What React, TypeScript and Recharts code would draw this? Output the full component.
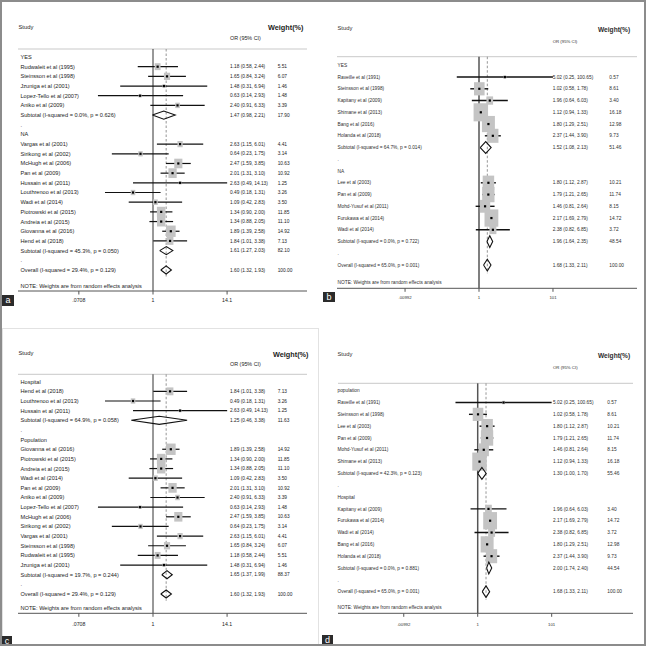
import React from "react";
import { ScatterChart, Scatter, XAxis, YAxis, ErrorBar, ReferenceLine } from "recharts";

type Row = { label: string; or?: number; lo?: number; hi?: number; w?: number; kind?: "group" | "gap" | "pool" };

const FONT = "'Liberation Sans', Arial, Helvetica, sans-serif";

const studyHead = "Study";
const effectHead = "OR (95% CI)";
const weightHead = "Weight(%)";
const noteText = "NOTE: Weights are from random effects analysis";

const ticksAC = [0.0708, 1, 14.1];
const tickLabelsAC = [".0708", "1", "14.1"];
const ticksBD = [0.00992, 1, 101];
const tickLabelsBD = [".00992", "1", "101"];

// a: by HLA-B27 (YES / NA)
const rowsA: Row[] = [
  { label: "YES", kind: "group" },
  { label: "Rudwaleit et al (1995)", or: 1.18, lo: 0.58, hi: 2.44, w: 5.51 },
  { label: "Steinsson et al (1998)", or: 1.65, lo: 0.84, hi: 3.24, w: 6.07 },
  { label: "Jzuniga et al (2001)", or: 1.48, lo: 0.31, hi: 6.94, w: 1.46 },
  { label: "Lopez-Tello et al (2007)", or: 0.63, lo: 0.14, hi: 2.93, w: 1.48 },
  { label: "Aniko et al (2009)", or: 2.4, lo: 0.91, hi: 6.33, w: 3.39 },
  { label: "Subtotal  (I-squared = 0.0%, p = 0.626)", or: 1.47, lo: 0.98, hi: 2.21, w: 17.9, kind: "pool" },
  { label: ".", kind: "gap" },
  { label: "NA", kind: "group" },
  { label: "Vargas et al (2001)", or: 2.63, lo: 1.15, hi: 6.01, w: 4.41 },
  { label: "Sirikong et al (2002)", or: 0.64, lo: 0.23, hi: 1.75, w: 3.14 },
  { label: "McHugh et al (2006)", or: 2.47, lo: 1.59, hi: 3.85, w: 10.63 },
  { label: "Pan et al (2009)", or: 2.01, lo: 1.31, hi: 3.1, w: 10.92 },
  { label: "Hussain et al (2011)", or: 2.63, lo: 0.49, hi: 14.13, w: 1.25 },
  { label: "Louthrenoo et al (2013)", or: 0.49, lo: 0.18, hi: 1.31, w: 3.26 },
  { label: "Wadi et al (2014)", or: 1.09, lo: 0.42, hi: 2.83, w: 3.5 },
  { label: "Piotrowski et al (2015)", or: 1.34, lo: 0.9, hi: 2.0, w: 11.85 },
  { label: "Andreia et al (2015)", or: 1.34, lo: 0.88, hi: 2.05, w: 11.1 },
  { label: "Giovanna et al (2016)", or: 1.89, lo: 1.39, hi: 2.58, w: 14.92 },
  { label: "Hend et al (2018)", or: 1.84, lo: 1.01, hi: 3.38, w: 7.13 },
  { label: "Subtotal  (I-squared = 45.3%, p = 0.050)", or: 1.61, lo: 1.27, hi: 2.03, w: 82.1, kind: "pool" },
  { label: ".", kind: "gap" },
  { label: "Overall  (I-squared = 29.4%, p = 0.129)", or: 1.6, lo: 1.32, hi: 1.93, w: 100, kind: "pool" },
];

const rowsB: Row[] = [
  { label: "YES", kind: "group" },
  { label: "Raveille et al (1991)", or: 5.02, lo: 0.25, hi: 100.65, w: 0.57 },
  { label: "Steinsson et al (1998)", or: 1.02, lo: 0.58, hi: 1.78, w: 8.61 },
  { label: "Kapitany et al (2009)", or: 1.96, lo: 0.64, hi: 6.03, w: 3.4 },
  { label: "Shimane et al (2013)", or: 1.12, lo: 0.94, hi: 1.33, w: 16.18 },
  { label: "Bang et al (2016)", or: 1.8, lo: 1.29, hi: 2.51, w: 12.98 },
  { label: "Holanda et al (2018)", or: 2.37, lo: 1.44, hi: 3.9, w: 9.73 },
  { label: "Subtotal  (I-squared = 64.7%, p = 0.014)", or: 1.52, lo: 1.08, hi: 2.13, w: 51.46, kind: "pool" },
  { label: ".", kind: "gap" },
  { label: "NA", kind: "group" },
  { label: "Lee et al (2003)", or: 1.8, lo: 1.12, hi: 2.87, w: 10.21 },
  { label: "Pan et al (2009)", or: 1.79, lo: 1.21, hi: 2.65, w: 11.74 },
  { label: "Mohd-Yusuf et al (2011)", or: 1.46, lo: 0.81, hi: 2.64, w: 8.15 },
  { label: "Furukawa et al (2014)", or: 2.17, lo: 1.69, hi: 2.79, w: 14.72 },
  { label: "Wadi et al (2014)", or: 2.38, lo: 0.82, hi: 6.85, w: 3.72 },
  { label: "Subtotal  (I-squared = 0.0%, p = 0.722)", or: 1.96, lo: 1.64, hi: 2.35, w: 48.54, kind: "pool" },
  { label: ".", kind: "gap" },
  { label: "Overall  (I-squared = 65.0%, p = 0.001)", or: 1.68, lo: 1.33, hi: 2.11, w: 100, kind: "pool" },
];

const rowsC: Row[] = [
  { label: "Hospital", kind: "group" },
  { label: "Hend et al (2018)", or: 1.84, lo: 1.01, hi: 3.38, w: 7.13 },
  { label: "Louthrenoo et al (2013)", or: 0.49, lo: 0.18, hi: 1.31, w: 3.26 },
  { label: "Hussain et al (2011)", or: 2.63, lo: 0.49, hi: 14.13, w: 1.25 },
  { label: "Subtotal  (I-squared = 64.9%, p = 0.058)", or: 1.25, lo: 0.46, hi: 3.38, w: 11.63, kind: "pool" },
  { label: ".", kind: "gap" },
  { label: "Population", kind: "group" },
  { label: "Giovanna et al (2016)", or: 1.89, lo: 1.39, hi: 2.58, w: 14.92 },
  { label: "Piotrowski et al (2015)", or: 1.34, lo: 0.9, hi: 2.0, w: 11.85 },
  { label: "Andreia et al (2015)", or: 1.34, lo: 0.88, hi: 2.05, w: 11.1 },
  { label: "Wadi et al (2014)", or: 1.09, lo: 0.42, hi: 2.83, w: 3.5 },
  { label: "Pan et al (2009)", or: 2.01, lo: 1.31, hi: 3.1, w: 10.92 },
  { label: "Aniko et al (2009)", or: 2.4, lo: 0.91, hi: 6.33, w: 3.39 },
  { label: "Lopez-Tello et al (2007)", or: 0.63, lo: 0.14, hi: 2.93, w: 1.48 },
  { label: "McHugh et al (2006)", or: 2.47, lo: 1.59, hi: 3.85, w: 10.63 },
  { label: "Sirikong et al (2002)", or: 0.64, lo: 0.23, hi: 1.75, w: 3.14 },
  { label: "Vargas et al (2001)", or: 2.63, lo: 1.15, hi: 6.01, w: 4.41 },
  { label: "Steinsson et al (1998)", or: 1.65, lo: 0.84, hi: 3.24, w: 6.07 },
  { label: "Rudwaleit et al (1995)", or: 1.18, lo: 0.58, hi: 2.44, w: 5.51 },
  { label: "Jzuniga et al (2001)", or: 1.48, lo: 0.31, hi: 6.94, w: 1.46 },
  { label: "Subtotal  (I-squared = 19.7%, p = 0.244)", or: 1.65, lo: 1.37, hi: 1.99, w: 88.37, kind: "pool" },
  { label: ".", kind: "gap" },
  { label: "Overall  (I-squared = 29.4%, p = 0.129)", or: 1.6, lo: 1.32, hi: 1.93, w: 100, kind: "pool" },
];

const rowsD: Row[] = [
  { label: "population", kind: "group" },
  { label: "Raveille et al (1991)", or: 5.02, lo: 0.25, hi: 100.65, w: 0.57 },
  { label: "Steinsson et al (1998)", or: 1.02, lo: 0.58, hi: 1.78, w: 8.61 },
  { label: "Lee et al (2003)", or: 1.8, lo: 1.12, hi: 2.87, w: 10.21 },
  { label: "Pan et al (2009)", or: 1.79, lo: 1.21, hi: 2.65, w: 11.74 },
  { label: "Mohd-Yusuf et al (2011)", or: 1.46, lo: 0.81, hi: 2.64, w: 8.15 },
  { label: "Shimane et al (2013)", or: 1.12, lo: 0.94, hi: 1.33, w: 16.18 },
  { label: "Subtotal  (I-squared = 42.3%, p = 0.123)", or: 1.3, lo: 1.0, hi: 1.7, w: 55.46, kind: "pool" },
  { label: ".", kind: "gap" },
  { label: "Hospital", kind: "group" },
  { label: "Kapitany et al (2009)", or: 1.96, lo: 0.64, hi: 6.03, w: 3.4 },
  { label: "Furukawa et al (2014)", or: 2.17, lo: 1.69, hi: 2.79, w: 14.72 },
  { label: "Wadi et al (2014)", or: 2.38, lo: 0.82, hi: 6.85, w: 3.72 },
  { label: "Bang et al (2016)", or: 1.8, lo: 1.29, hi: 2.51, w: 12.98 },
  { label: "Holanda et al (2018)", or: 2.37, lo: 1.44, hi: 3.9, w: 9.73 },
  { label: "Subtotal  (I-squared = 0.0%, p = 0.881)", or: 2.0, lo: 1.74, hi: 2.4, w: 44.54, kind: "pool" },
  { label: ".", kind: "gap" },
  { label: "Overall  (I-squared = 65.0%, p = 0.001)", or: 1.68, lo: 1.33, hi: 2.11, w: 100, kind: "pool" },
];

type Layout = {
  left: number; top: number; w: number; h: number;
  plotL: number; plotR: number; axisY: number; one: number; pxLn: number;
  row0: number; step: number; headY: number;
  studyX: number; studyY: number; orHeadY: number; wHeadX: number; wHeadY: number; noteY: number;
  labelX: number; orX: number; wX: number;
  font: number; numFont: number; studyFont: number; orHeadFont: number; wHeadFont: number; tickFont: number; tickGap: number;
  boxW: number; boxH: number; diamond: number; ciW: number; nullW: number; nullColor: string; ink: string;
  letter: string; lx: number; ly: number; lw: number; lh: number;
};

const smallA = {
  plotL: 18, plotR: 307, one: 153, pxLn: 28,
  studyX: 18.5, labelX: 20.5, orX: 230, wX: 277.7,
  font: 5.6, numFont: 4.8, studyFont: 5.8, orHeadFont: 5.4, wHeadFont: 7.3, tickFont: 5.2,
  boxW: 2.5, boxH: 2.95, diamond: 0.42, ciW: 1.2, nullW: 1, nullColor: "#333", ink: "#1c1c1c",
};
const smallB = {
  studyX: 15.5, labelX: 15.5, pxLn: 16.03,
  font: 4.8, numFont: 4.8, studyFont: 5.8, orHeadFont: 4.3, wHeadFont: 6.6, tickFont: 4.3,
  boxW: 3.6, boxH: 4.5, diamond: 0.5, ciW: 1.4, nullW: 1.5, nullColor: "#555", ink: "#2e2e2e",
};

const layoutA: Layout = {
  ...smallA, left: 0, top: 0, w: 322, h: 322, axisY: 291, row0: 57, step: 9.68, headY: 49,
  studyY: 27, orHeadY: 38, wHeadX: 268, wHeadY: 27, noteY: 286, tickGap: 3.5,
  letter: "a", lx: 2, ly: 295, lw: 12, lh: 11,
};
const layoutC: Layout = {
  ...smallA, left: 0, top: 322, w: 322, h: 324, axisY: 291.3, row0: 59.7, step: 9.65, headY: 52.3,
  studyY: 31.3, orHeadY: 42.3, wHeadX: 273, wHeadY: 32.3, noteY: 286.3, tickGap: 5.6,
  letter: "c", lx: 2, ly: 636, lw: 10, lh: 10,
};
const layoutB: Layout = {
  ...smallB, left: 322, top: 0, w: 324, h: 322, plotL: 15, plotR: 315, one: 157, axisY: 288.3,
  row0: 65.3, step: 11.75, headY: 56.7, studyY: 28, orHeadY: 41.7, wHeadX: 276, wHeadY: 30, noteY: 282.7,
  orX: 230.7, wX: 287.3, tickGap: 4,
  letter: "b", lx: 323, ly: 292, lw: 12, lh: 10,
};
const layoutD: Layout = {
  ...smallB, left: 322, top: 322, w: 324, h: 324, plotL: 16, plotR: 311, one: 155.7, axisY: 291.3,
  row0: 68.7, step: 11.82, headY: 61.3, studyY: 32.3, orHeadY: 45.3, wHeadX: 276, wHeadY: 34, noteY: 285.7,
  orX: 231, wX: 285.3, tickGap: 6,
  letter: "d", lx: 322, ly: 635, lw: 11, lh: 11,
};

const fmt = (v: number) => v.toFixed(2);

function ForestPanel({ rows, ticks, tickLabels, L }: { rows: Row[]; ticks: number[]; tickLabels: string[]; L: Layout }) {
  const top = 4;
  const xDomain = [Math.exp((L.plotL - L.one) / L.pxLn), Math.exp((L.plotR - L.one) / L.pxLn)];
  const yDomain = [(top - L.row0) / L.step, (L.axisY - L.row0) / L.step];
  const headIdx = (L.headY - L.row0) / L.step;

  const indexed = rows.map((r, i) => ({ ...r, x: r.or ?? 1, y: i }));
  const studies = indexed
    .filter((r) => r.or != null && !r.kind)
    .map((r) => ({ ...r, err: [r.or! - r.lo!, r.hi! - r.or!] }));
  const pools = indexed.filter((r) => r.kind === "pool");
  const overall = pools[pools.length - 1];

  const Box = (p: any) => {
    const wt = p.payload.w as number;
    const bw = L.boxW * Math.sqrt(wt);
    const bh = L.boxH * Math.sqrt(wt);
    return <rect x={p.cx - bw / 2} y={p.cy - bh / 2} width={bw} height={bh} fill="#c4c4c4" />;
  };
  const Dot = (p: any) => <rect x={p.cx - 1.1} y={p.cy - 1.1} width={2.2} height={2.2} fill="#000" />;
  const Nothing = () => <g />;
  const TextRow = (p: any) => {
    const r = p.payload as Row;
    return (
      <g fontFamily={FONT} fill={L.ink}>
        <text x={L.labelX} y={p.cy} dy="0.35em" fontSize={L.font}>{r.label}</text>
        {r.or != null && (
          <text x={L.orX} y={p.cy} dy="0.35em" fontSize={L.numFont}>
            {`${fmt(r.or)} (${fmt(r.lo!)}, ${fmt(r.hi!)})`}
          </text>
        )}
        {r.w != null && (
          <text x={L.wX} y={p.cy} dy="0.35em" fontSize={L.numFont}>{fmt(r.w)}</text>
        )}
      </g>
    );
  };

  return (
    <div style={{ position: "absolute", left: L.left, top: L.top, width: L.w, height: L.h }}>
      <ScatterChart
        width={L.w}
        height={L.h}
        margin={{ top, right: L.w - L.plotR, bottom: L.h - L.axisY - 20, left: L.plotL }}
      >
        <XAxis
          type="number"
          dataKey="x"
          scale="log"
          domain={xDomain}
          ticks={ticks}
          interval={0}
          tickFormatter={(v: number) => tickLabels[ticks.indexOf(v)] ?? String(v)}
          height={20}
          tickSize={3.5}
          tickMargin={L.tickGap}
          axisLine={{ stroke: "#555" }}
          tickLine={{ stroke: "#555" }}
          tick={{ fontSize: L.tickFont, fill: L.ink, fontFamily: FONT }}
        />
        <YAxis type="number" dataKey="y" domain={yDomain} reversed hide />
        <ReferenceLine y={headIdx} stroke="#c9c9c9" strokeWidth={1} />
        <Scatter data={studies} shape={Box} isAnimationActive={false} />
        <ReferenceLine
          segment={[{ x: 1, y: headIdx }, { x: 1, y: yDomain[1] }]}
          stroke={L.nullColor}
          strokeWidth={L.nullW}
        />
        <ReferenceLine
          segment={[{ x: overall.or, y: headIdx }, { x: overall.or, y: overall.y + 0.7 }]}
          stroke="#8a8a8a"
          strokeWidth={0.9}
          strokeDasharray="2.5 2"
        />
        <Scatter data={studies} shape={Dot} isAnimationActive={false}>
          <ErrorBar dataKey="err" direction="x" width={0} stroke="#111" strokeWidth={L.ciW} />
        </Scatter>
        {pools.map((p) => (
          <Scatter
            key={p.y}
            data={[
              { x: p.lo, y: p.y },
              { x: p.or, y: p.y - L.diamond },
              { x: p.hi, y: p.y },
              { x: p.or, y: p.y + L.diamond },
              { x: p.lo, y: p.y },
            ]}
            line={{ stroke: "#111", strokeWidth: 1.1, fill: "none" }}
            shape={Nothing}
            isAnimationActive={false}
          />
        ))}
        <Scatter data={indexed} shape={TextRow} isAnimationActive={false} />
      </ScatterChart>
      <svg
        width={L.w}
        height={L.h}
        style={{ position: "absolute", left: 0, top: 0, pointerEvents: "none" }}
        fontFamily={FONT}
        fill={L.ink}
      >
        <text x={L.studyX} y={L.studyY} dy="0.35em" fontSize={L.studyFont}>{studyHead}</text>
        <text x={L.orX} y={L.orHeadY} dy="0.35em" fontSize={L.orHeadFont}>{effectHead}</text>
        <text x={L.wHeadX} y={L.wHeadY} dy="0.35em" fontSize={L.wHeadFont} fontWeight="bold">{weightHead}</text>
        <text x={L.labelX} y={L.noteY} dy="0.35em" fontSize={L.font}>{noteText}</text>
      </svg>
    </div>
  );
}

function Letter({ L }: { L: Layout }) {
  return (
    <div
      style={{
        position: "absolute", left: L.lx, top: L.ly, width: L.lw, height: L.lh,
        background: "#2b2b2b", color: "#fff", fontFamily: FONT, fontSize: 9,
        lineHeight: `${L.lh}px`, textAlign: "center",
      }}
    >
      {L.letter}
    </div>
  );
}

export default function App() {
  return (
    <div style={{ position: "absolute", left: 0, top: 0, width: 646, height: 646, background: "#fff", overflow: "hidden" }}>
      <div style={{ position: "absolute", left: 2, top: 328, width: 315, height: 316, border: "1px solid #e2e2e2" }} />
      <ForestPanel rows={rowsA} ticks={ticksAC} tickLabels={tickLabelsAC} L={layoutA} />
      <ForestPanel rows={rowsB} ticks={ticksBD} tickLabels={tickLabelsBD} L={layoutB} />
      <ForestPanel rows={rowsC} ticks={ticksAC} tickLabels={tickLabelsAC} L={layoutC} />
      <ForestPanel rows={rowsD} ticks={ticksBD} tickLabels={tickLabelsBD} L={layoutD} />
      <Letter L={layoutA} />
      <Letter L={layoutB} />
      <Letter L={layoutC} />
      <Letter L={layoutD} />
      <div style={{ position: "absolute", left: 0, top: 0, width: 646, height: 646, boxSizing: "border-box", border: "2px solid #8c8c8c", pointerEvents: "none" }} />
    </div>
  );
}
